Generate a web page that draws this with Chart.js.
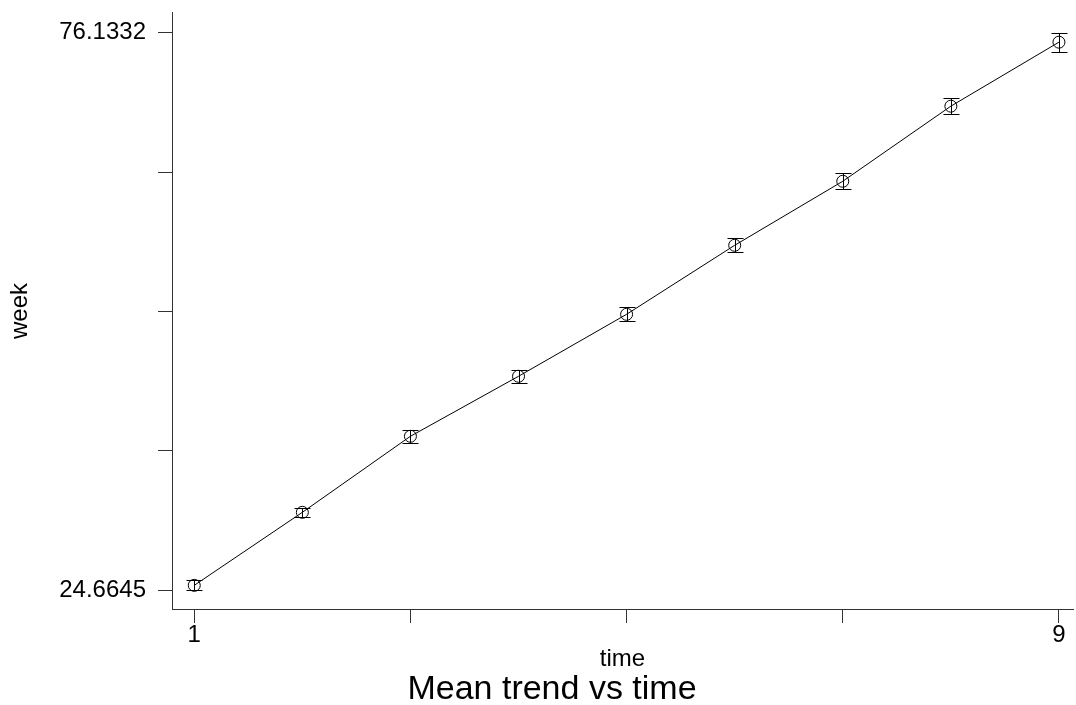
<!DOCTYPE html>
<html>
<head>
<meta charset="utf-8">
<script src="https://cdn.jsdelivr.net/npm/chart.js@4/dist/chart.umd.min.js"></script>
<style>
  html, body { margin: 0; padding: 0; background: #fff; overflow: hidden; }
  #wrap { width: 1076px; height: 705px; position: relative; }
  canvas { display: block; }
</style>
</head>
<body>
<div id="wrap"><canvas id="myChart"></canvas></div>
<script>
// data
const timeValues = [1, 2, 3, 4, 5, 6, 7, 8, 9];
const meanWeek = [25.12, 31.86, 38.88, 44.42, 50.14, 56.51, 62.42, 69.35, 75.26];
const ciLow    = [24.6645, 31.44, 38.28, 43.82, 49.49, 55.86, 61.68, 68.61, 74.39];
const ciHigh   = [25.58, 32.28, 39.48, 45.02, 50.79, 57.16, 63.16, 70.09, 76.1332];

// tick values and labels
const xTickValues = [1, 3, 5, 7, 9];
const xTickLabels = ['1', '', '', '', '9'];
const yTickValues = [24.6645, 37.5317, 50.3989, 63.2660, 76.1332];
const yTickLabels = ['24.6645', '', '', '', '76.1332'];

const FONT = "'Liberation Sans', Arial, Helvetica, sans-serif";

// error bars drawn through the chart's own scales
const errorBars = {
    id: 'errorBars',
    afterDatasetsDraw(chart) {
        const ctx = chart.ctx;
        const xs = chart.scales.x;
        const ys = chart.scales.y;
        ctx.save();
        ctx.strokeStyle = '#000';
        ctx.lineWidth = 1;
        timeValues.forEach(function(t, i) {
            const px = Math.round(xs.getPixelForValue(t)) + 0.5;
            const lo = Math.round(ys.getPixelForValue(ciLow[i])) + 0.5;
            const hi = Math.round(ys.getPixelForValue(ciHigh[i])) + 0.5;
            ctx.beginPath();
            ctx.moveTo(px, lo); ctx.lineTo(px, hi);
            ctx.moveTo(px - 8, lo); ctx.lineTo(px + 8, lo);
            ctx.moveTo(px - 8, hi); ctx.lineTo(px + 8, hi);
            ctx.stroke();
        });
        ctx.restore();
    }
};

function noPadding(scale) {
    scale.paddingLeft = 0;
    scale.paddingRight = 0;
    scale.paddingTop = 0;
    scale.paddingBottom = 0;
}

const ctx = document.getElementById('myChart').getContext('2d');
const myChart = new Chart(ctx, {
    type: 'line',
    data: {
        datasets: [{
            label: 'week',
            data: timeValues.map((t, i) => ({ x: t, y: meanWeek[i] })),
            borderColor: '#000',
            borderWidth: 1,
            pointRadius: 6,
            pointBorderWidth: 1,
            pointBorderColor: '#000',
            pointBackgroundColor: 'rgba(0,0,0,0)',
            fill: false,
            tension: 0
        }]
    },
    plugins: [errorBars],
    options: {
        responsive: true,
        maintainAspectRatio: false,
        animation: false,
        layout: {
            autoPadding: false,
            padding: { top: 12, right: 3, bottom: 0, left: 31 }
        },
        scales: {
            x: {
                type: 'linear',
                min: 0.794,
                max: 9.13,
                afterBuildTicks: function(scale) {
                    scale.ticks = xTickValues.map(v => ({ value: v }));
                },
                afterFit: function(scale) {
                    scale.height = 64;
                    noPadding(scale);
                },
                ticks: {
                    autoSkip: false,
                    maxRotation: 0,
                    padding: -2,
                    color: '#000',
                    font: { family: FONT, size: 24 },
                    callback: function(value, index) { return xTickLabels[index]; }
                },
                grid: {
                    drawOnChartArea: false,
                    drawTicks: true,
                    tickLength: 13,
                    tickColor: '#333'
                },
                border: { display: true, color: '#333', width: 1 },
                title: {
                    display: true,
                    text: 'time',
                    color: '#000',
                    font: { family: FONT, size: 24 },
                    padding: 0
                }
            },
            y: {
                type: 'linear',
                min: 22.846,
                max: 78.044,
                afterBuildTicks: function(scale) {
                    scale.ticks = yTickValues.map(v => ({ value: v }));
                },
                afterFit: function(scale) {
                    scale.width = 141;
                    noPadding(scale);
                },
                ticks: {
                    autoSkip: false,
                    padding: 12,
                    color: '#000',
                    font: { family: FONT, size: 24 },
                    callback: function(value, index) { return yTickLabels[index]; }
                },
                grid: {
                    drawOnChartArea: false,
                    drawTicks: true,
                    tickLength: 14,
                    tickColor: '#333'
                },
                border: { display: true, color: '#333', width: 1 },
                title: {
                    display: true,
                    text: 'week',
                    color: '#000',
                    font: { family: FONT, size: 24 },
                    padding: { top: -25.4, bottom: 0 }
                }
            }
        },
        plugins: {
            legend: { display: false },
            tooltip: { enabled: false },
            title: {
                display: true,
                position: 'bottom',
                text: 'Mean trend vs time',
                color: '#000',
                font: { family: FONT, size: 34, weight: 'normal', lineHeight: 0.912 },
                padding: 0
            }
        }
    }
});
</script>
</body>
</html>
